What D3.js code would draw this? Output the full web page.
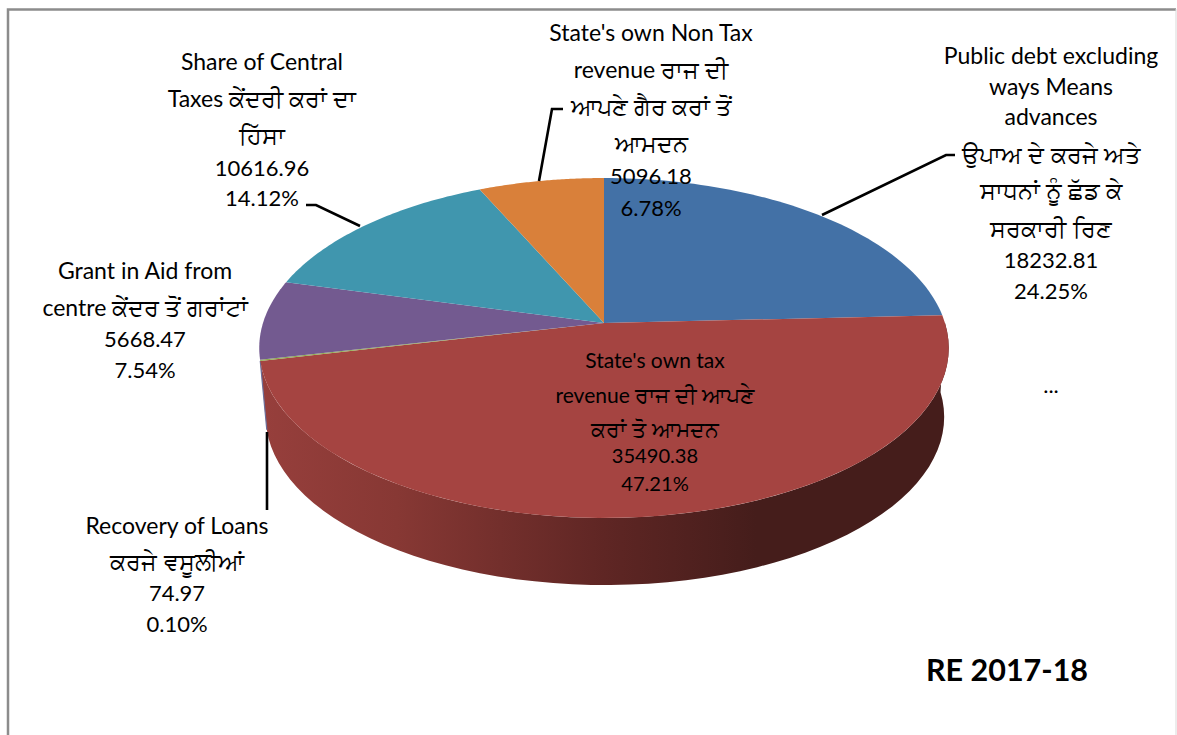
<!DOCTYPE html>
<html><head><meta charset="utf-8">
<script src="https://cdn.jsdelivr.net/npm/d3@7/dist/d3.min.js"></script>
<style>html,body{margin:0;background:#fff}svg{display:block}text{font-family:Lato,"Noto Sans",sans-serif;fill:#000}</style>
</head><body><svg id="c" width="1177" height="735"></svg>
<script>
const categories=["Public debt excluding ways Means advances","State's own tax revenue","Recovery of Loans","Grant in Aid from centre","Share of Central Taxes","State's own Non Tax revenue"];
const values=[18232.81,35490.38,74.97,5668.47,10616.96,5096.18];
const percents=["24.25%","47.21%","0.10%","7.54%","14.12%","6.78%"];
const colors=["#4371A6","#A54441","#8FAE4F","#735A90","#4096AE","#D9803A"];
const labelLines=[
["Public debt excluding","ways Means","advances","ਉਪਾਅ ਦੇ ਕਰਜੇ ਅਤੇ","ਸਾਧਨਾਂ ਨੂੰ ਛੱਡ ਕੇ","ਸਰਕਾਰੀ ਰਿਣ"],
["State's own tax","revenue ਰਾਜ ਦੀ ਆਪਣੇ","ਕਰਾਂ ਤੋ ਆਮਦਨ"],
["Recovery of Loans","ਕਰਜੇ ਵਸੂਲੀਆਂ"],
["Grant in Aid from","centre ਕੇਂਦਰ ਤੋਂ ਗਰਾਂਟਾਂ"],
["Share of Central","Taxes ਕੇਂਦਰੀ ਕਰਾਂ ਦਾ","ਹਿੱਸਾ"],
["State's own Non Tax","revenue ਰਾਜ ਦੀ","ਆਪਣੇ ਗੈਰ ਕਰਾਂ ਤੋਂ","ਆਮਦਨ"]];
const title="RE 2017-18";
const svg=d3.select("#c");
const cx=604,K=0.147;
function topPt(a){const u=Math.sin(a),v=Math.cos(a),w=1+K*v;return [cx+341*u/w,323-166.3*v/w];}
function botPt(a){const u=Math.sin(a),v=Math.cos(a),w=1+K*v;return [605+335.5*u/w,392.3-164.4*v/w];}
const pie=d3.pie().sort(null).value(d=>d)(values);
const line=d3.line();
const samp=(a,b)=>d3.range(0,61).map(i=>a+(b-a)*i/60);
const defs=svg.append("defs");
const grad=defs.append("linearGradient").attr("id","sideR").attr("gradientUnits","userSpaceOnUse").attr("x1",259).attr("x2",949).attr("y1",0).attr("y2",0);
[[0,"#973F3C"],[.2,"#873834"],[.5,"#5F2624"],[.72,"#451D1B"],[1,"#451D1B"]].forEach(s=>grad.append("stop").attr("offset",s[0]).attr("stop-color",s[1]));
// frame
svg.append("path").attr("d","M8 735V9.5H1176").attr("fill","none").attr("stroke","#8c8c8c").attr("stroke-width",2.5);
svg.append("path").attr("d","M1176 9V735").attr("fill","none").attr("stroke","#d9d9d9").attr("stroke-width",1);
// side wall of the large front slice (the others are hidden behind it), with the thin edge of the next slice at its left
const front=pie[1];
const a0=Math.max(front.startAngle,Math.PI/2),b0=front.endAngle;
svg.append("path").attr("d",line(samp(a0,b0).map(topPt).concat(samp(a0,b0).reverse().map(botPt)))+"Z").attr("fill","url(#sideR)");
svg.append("path").attr("d",line([topPt(b0),botPt(b0)])).attr("stroke","#6B6F9B").attr("stroke-width",1.2).attr("fill","none");
// top faces
pie.forEach((d,i)=>{
  const pts=[[cx,323]].concat(samp(d.startAngle,d.endAngle).map(topPt));
  svg.append("path").attr("d",line(pts)+"Z").attr("fill",colors[i]);
});
// leaders
const leaders=[[[822,215],[946,155],[955,155]],[[360,226],[316,205],[306,205]],[[539,181],[552,109],[563,109]],[[267,432],[267,510]]];
leaders.forEach(l=>svg.append("path").attr("d",line(l)).attr("fill","none").attr("stroke","#000").attr("stroke-width",2.6));
// labels
const layout=[
 {x:1051,s:1,ys:[64,95,125,163,199,237,268,299]},
 {x:655,s:.915,ys:[368,403,437,463,491]},
 {x:177,s:1,ys:[534,570,601,632]},
 {x:145,s:1,ys:[279,316,347,378]},
 {x:262,s:1,ys:[70,107,144,176,206]},
 {x:651,s:1,ys:[41,78,115,152,184,216]}];
const runs=t=>t.split(/([\u0A00-\u0A7F]+(?:\s+[\u0A00-\u0A7F]+)*)/).filter(s=>s);
labelLines.forEach((ls,i)=>{
  const g=svg.append("text").attr("text-anchor","middle"),L=layout[i];
  ls.forEach((t,j)=>{
    const ln=g.append("tspan").attr("x",L.x).attr("y",L.ys[j]);
    runs(t).forEach(r=>{
      const gur=/[\u0A00-\u0A7F]/.test(r);
      ln.append("tspan").attr("font-size",(gur?24:23)*L.s).text(r);
    });
  });
  [values[i].toFixed(2),percents[i]].forEach((t,k)=>g.append("tspan").attr("x",L.x).attr("y",L.ys[ls.length+k]).attr("font-size",22*L.s).text(t));
});
svg.append("text").attr("x",1051).attr("y",393).attr("text-anchor","middle").attr("font-size",22).text("...");
svg.append("text").attr("x",1007).attr("y",681).attr("text-anchor","middle").attr("font-size",30.5).attr("font-weight",700).text(title);
</script></body></html>
